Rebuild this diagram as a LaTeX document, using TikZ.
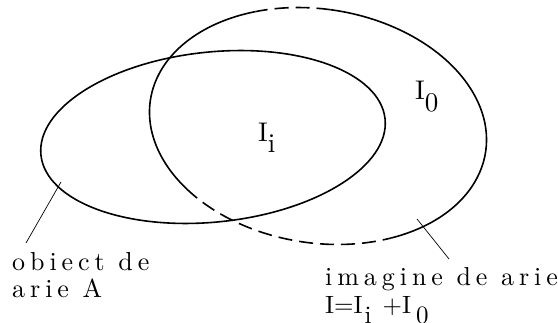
\documentclass[tikz,border=0pt]{standalone}
\usepackage{fontspec}
\newfontfamily\lblfont{lmroman10-regular.otf}[LetterSpace=19]
\newfontfamily\symfont{lmroman10-regular.otf}
\begin{document}
\begin{tikzpicture}[x=1pt,y=1pt,
  curve/.style={line width=1.6pt},
  dashpart/.style={line width=1.6pt, dash pattern=on 14pt off 7pt},
  leader/.style={line width=0.7pt},
  txt/.style={inner sep=0pt, anchor=base west, font=\lblfont\fontsize{26}{30}\selectfont},
  eqn/.style={inner sep=0pt, anchor=base west, font=\symfont\fontsize{25}{30}\selectfont},
  sym/.style={inner sep=0pt, anchor=base west, font=\symfont\fontsize{27}{30}\selectfont}]
\useasboundingbox (0,0) rectangle (558,322);
% object ellipse
\draw[curve, rotate around={6:(213,185)}] (213,185) ellipse [x radius=173, y radius=85];
% image ellipse
\begin{scope}[shift={(318,196)}, rotate=-9]
  \draw[curve] (118:169.6 and 116.9) arc[start angle=118, end angle=225, x radius=169.6, y radius=116.9];
  \draw[curve] (302:169.6 and 116.9) arc[start angle=302, end angle=452, x radius=169.6, y radius=116.9];
  \draw[dashpart] (92:169.6 and 116.9) arc[start angle=92, end angle=118, x radius=169.6, y radius=116.9];
  \draw[dashpart] (225:169.6 and 116.9) arc[start angle=225, end angle=302, x radius=169.6, y radius=116.9];
\end{scope}
% labels
\node[sym] (ii) at (258,180) {I\raisebox{-11pt}{i}};
\node[sym] (io) at (415,222) {I\raisebox{-12pt}{0}};
\node[txt] (t1) at (12,52) {obiect de};
\node[txt] (t2) at (12,24) {arie A};
\node[txt] (t3) at (325,37) {imagine de arie};
\node[eqn] (t4) at (325,9) {I=I\raisebox{-10pt}{\hspace{2pt}i}\hspace{11pt}+I\raisebox{-10pt}{\hspace{5pt}0}};
% leaders
\coordinate (la) at (61,140);
\coordinate (lb) at (26,79);
\coordinate (ra) at (417,103);
\coordinate (rb) at (449,63);
\draw[leader] (la) -- (lb);
\draw[leader] (ra) -- (rb);
\end{tikzpicture}
\end{document}
